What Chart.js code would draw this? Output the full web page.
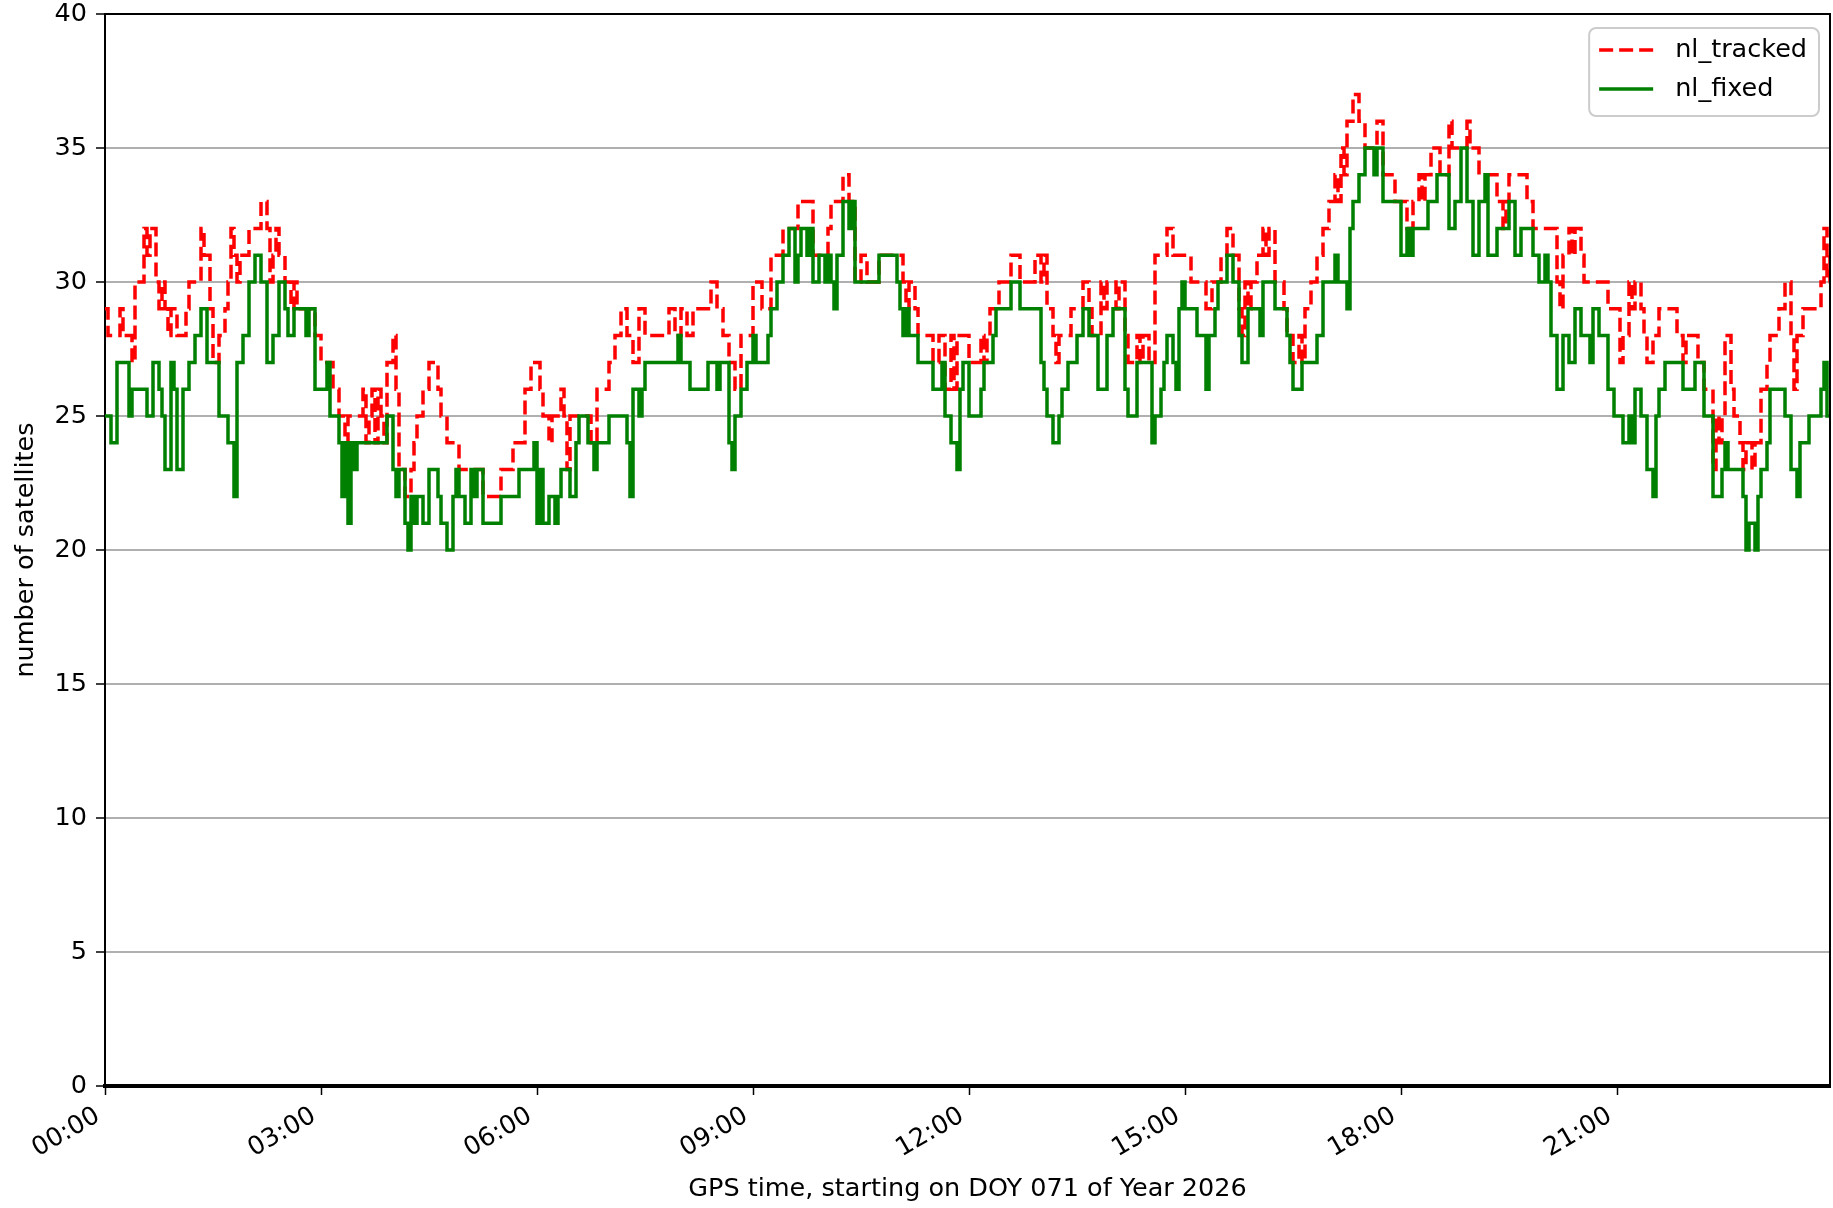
<!DOCTYPE html>
<html>
<head>
<meta charset="utf-8">
<title>nl_tracked / nl_fixed</title>
<script src="https://cdn.jsdelivr.net/npm/chart.js@4.4.1/dist/chart.umd.min.js"></script>
<style>
  html, body { margin: 0; padding: 0; background: #fff; }
  #wrap { width: 1833px; height: 1208px; }
</style>
</head>
<body>
<div id="wrap"><canvas id="satChart" width="1833" height="1208"></canvas></div>
<script>
// 2.5-minute epochs, one row per hour
const trackedValues = [
  29,28, 28,28, 28,29, 28,28, 28,27, 30,30, 30,32, 31,32, 32,30, 29,30, 29,28, 29,29,
  28,28, 28,29, 30,30, 30,30, 32,31, 31,29, 27,27, 28,28, 29,30, 32,31, 30,31, 31,31,
  32,32, 32,32, 33,33, 32,30, 31,32, 31,31, 30,30, 29,30, 29,29, 29,29, 29,29, 28,28,
  27,27, 27,27, 26,26, 25,25, 24,25, 25,25, 25,25, 26,24, 25,26, 24,26, 25,24, 27,27,
  28,26, 23,23, 22,22, 23,24, 25,25, 26,26, 27,27, 27,26, 25,25, 24,24, 24,24, 23,23,
  23,23, 23,23, 23,23, 22,22, 22,22, 22,22, 23,23, 23,23, 24,24, 24,24, 26,26, 27,27,
  27,26, 25,25, 24,25, 25,25, 26,25, 23,25, 25,25, 25,25, 25,25, 24,24, 26,26, 26,26,
  27,27, 28,28, 29,29, 28,28, 27,27, 29,29, 28,28, 28,28, 28,28, 28,28, 29,29, 28,28,
  29,29, 28,28, 29,29, 29,29, 29,29, 30,30, 29,29, 28,28, 27,27, 26,26, 28,28, 28,28,
  30,30, 30,29, 29,29, 31,31, 31,31, 32,32, 32,32, 32,33, 33,33, 33,33, 31,31, 31,31,
  31,32, 33,33, 33,33, 34,34, 33,33, 30,30, 31,31, 30,30, 30,30, 31,31, 31,31, 31,31,
  31,31, 30,29, 30,30, 29,28, 28,28, 28,28, 27,27, 28,28, 26,26, 28,26, 28,28, 28,28,
  27,27, 27,27, 28,27, 28,29, 29,29, 30,30, 30,30, 31,31, 31,30, 30,30, 30,30, 31,31,
  30,31, 29,29, 28,27, 28,28, 28,28, 29,29, 29,29, 30,30, 29,28, 28,28, 30,29, 30,30,
  30,29, 30,30, 28,27, 27,27, 28,27, 28,28, 27,27, 31,31, 31,31, 32,32, 31,31, 31,31,
  31,31, 30,30, 30,30, 30,29, 29,30, 30,30, 31,31, 32,32, 31,31, 29,28, 30,29, 30,30,
  31,31, 32,31, 32,32, 30,30, 30,29, 28,28, 27,27, 28,27, 29,29, 30,30, 31,31, 32,32,
  33,33, 34,33, 35,34, 36,36, 37,37, 36,36, 35,35, 35,35, 36,36, 34,34, 34,34, 33,33,
  33,33, 32,32, 33,33, 34,33, 34,34, 35,35, 35,34, 34,34, 36,35, 35,35, 35,35, 36,35,
  35,35, 34,34, 34,34, 34,34, 33,33, 32,33, 34,34, 34,34, 34,34, 33,33, 32,32, 32,32,
  32,32, 32,32, 30,29, 31,31, 32,31, 32,32, 31,30, 30,30, 30,30, 30,30, 30,29, 29,29,
  29,27, 28,28, 30,29, 30,30, 29,28, 27,27, 28,28, 29,29, 29,29, 29,29, 28,28, 27,28,
  28,28, 28,27, 27,26, 26,26, 23,25, 24,25, 28,28, 26,25, 25,24, 23,24, 24,23, 24,24,
  26,26, 27,28, 28,28, 29,29, 30,30, 28,26, 28,28, 29,29, 29,29, 29,29, 30,32, 30,31
];

const fixedValues = [
  25,25, 24,24, 27,27, 27,27, 25,26, 26,26, 26,26, 25,25, 27,27, 26,25, 23,23, 27,26,
  23,23, 26,26, 27,27, 28,28, 29,29, 27,27, 27,27, 25,25, 25,24, 24,22, 27,27, 28,28,
  30,30, 31,31, 30,30, 27,27, 28,28, 30,30, 29,28, 28,29, 29,29, 29,28, 29,29, 26,26,
  26,26, 27,25, 25,25, 24,22, 24,21, 24,23, 24,24, 24,24, 24,24, 24,24, 24,24, 25,25,
  23,22, 23,23, 21,20, 22,21, 22,22, 21,21, 23,23, 23,22, 21,21, 20,20, 22,23, 22,22,
  21,21, 23,22, 23,23, 21,21, 21,21, 21,21, 22,22, 22,22, 22,22, 23,23, 23,23, 23,24,
  21,23, 21,21, 22,22, 21,22, 23,23, 23,22, 22,24, 25,25, 25,24, 24,23, 24,24, 24,24,
  25,25, 25,25, 25,25, 24,22, 26,26, 25,26, 27,27, 27,27, 27,27, 27,27, 27,27, 27,28,
  27,27, 27,26, 26,26, 26,26, 26,27, 27,27, 26,27, 27,27, 24,23, 25,25, 26,26, 27,27,
  28,27, 27,27, 27,28, 29,29, 30,30, 31,31, 32,32, 30,31, 32,32, 31,32, 30,30, 31,31,
  30,31, 30,29, 31,31, 33,33, 32,33, 30,30, 30,30, 30,30, 30,30, 31,31, 31,31, 31,31,
  30,29, 28,29, 28,28, 28,27, 27,27, 27,27, 26,26, 26,27, 25,25, 24,24, 23,26, 27,27,
  25,25, 25,25, 26,27, 27,27, 28,29, 29,29, 29,29, 30,30, 30,29, 29,29, 29,29, 29,29,
  27,26, 25,25, 24,24, 25,26, 26,27, 27,27, 28,28, 29,29, 28,28, 28,26, 26,26, 28,28,
  29,29, 29,29, 26,25, 25,25, 27,27, 27,27, 27,24, 25,25, 26,27, 28,28, 27,26, 29,30,
  29,29, 29,29, 28,28, 28,26, 28,28, 29,30, 30,30, 31,31, 30,30, 28,27, 27,29, 29,29,
  29,28, 30,30, 30,30, 29,29, 29,29, 28,27, 26,26, 26,27, 27,27, 27,27, 28,28, 30,30,
  30,30, 31,30, 30,30, 29,32, 33,33, 34,34, 35,35, 35,34, 35,35, 33,33, 33,33, 33,33,
  31,31, 32,31, 32,32, 32,32, 32,33, 33,33, 34,34, 34,34, 32,32, 33,33, 35,35, 33,33,
  31,31, 33,33, 34,31, 31,31, 32,32, 32,32, 33,33, 31,31, 32,32, 32,32, 31,31, 30,30,
  31,30, 28,28, 26,26, 28,28, 27,27, 29,29, 28,28, 28,27, 29,29, 28,28, 28,26, 26,25,
  25,25, 24,24, 25,24, 26,26, 25,25, 23,23, 22,25, 26,26, 27,27, 27,27, 27,27, 26,26,
  26,26, 27,27, 27,25, 25,25, 22,22, 22,23, 24,23, 23,23, 23,23, 22,20, 21,21, 20,22,
  23,23, 24,26, 26,26, 26,26, 25,25, 23,23, 22,24, 24,24, 25,25, 25,25, 26,27, 25,25
];

const epochMinutes = 2.5;
const dayEndMinute = 1437.5;
const tickMinutes = [0, 180, 360, 540, 720, 900, 1080, 1260];
const tickLabels = ["00:00", "03:00", "06:00", "09:00", "12:00", "15:00", "18:00", "21:00"];
const yTicks = [0, 5, 10, 15, 20, 25, 30, 35, 40];

const FONT = { family: "'DejaVu Sans', sans-serif", size: 25.5 };

function toPoints(values) {
  const pts = values.map((v, i) => ({ x: i * epochMinutes, y: v }));
  pts.push({ x: values.length * epochMinutes, y: values[values.length - 1] });
  return pts;
}

const frameAndLegend = {
  id: "frameAndLegend",
  afterDraw(chart) {
    const { ctx, chartArea: area } = chart;
    ctx.save();
    // top and right spines
    ctx.strokeStyle = "#000";
    ctx.lineWidth = 2;
    ctx.beginPath();
    ctx.moveTo(area.left, area.top);
    ctx.lineTo(area.right, area.top);
    ctx.lineTo(area.right, area.bottom);
    ctx.stroke();

    // legend box, upper right
    const sets = chart.data.datasets;
    ctx.font = FONT.size + "px " + FONT.family;
    const textW = Math.max(...sets.map((d) => ctx.measureText(d.label).width));
    const padL = 10, handle = 54, gap = 22, padR = 12, rowH = 39;
    const boxW = padL + handle + gap + textW + padR;
    const boxH = 88;
    const bx = area.right - 11 - boxW;
    const by = area.top + 14;
    ctx.beginPath();
    ctx.roundRect(bx, by, boxW, boxH, 7);
    ctx.fillStyle = "rgba(255,255,255,0.85)";
    ctx.fill();
    ctx.strokeStyle = "#cccccc";
    ctx.lineWidth = 2;
    ctx.stroke();

    sets.forEach((d, i) => {
      const y = by + 22 + i * rowH;
      ctx.beginPath();
      ctx.setLineDash(d.borderDash || []);
      ctx.strokeStyle = d.borderColor;
      ctx.lineWidth = d.borderWidth;
      ctx.moveTo(bx + padL, y);
      ctx.lineTo(bx + padL + handle, y);
      ctx.stroke();
      ctx.setLineDash([]);
      ctx.fillStyle = "#000";
      ctx.textAlign = "left";
      ctx.textBaseline = "middle";
      ctx.fillText(d.label, bx + padL + handle + gap, y);
    });
    ctx.restore();
  },
};

new Chart(document.getElementById("satChart"), {
  type: "line",
  data: {
    datasets: [
      {
        label: "nl_tracked",
        data: toPoints(trackedValues),
        borderColor: "#ff0000",
        borderWidth: 3.5,
        borderDash: [14, 6],
        stepped: true,
        pointRadius: 0,
        order: 2,
      },
      {
        label: "nl_fixed",
        data: toPoints(fixedValues),
        borderColor: "#008000",
        borderWidth: 3.5,
        stepped: true,
        pointRadius: 0,
        order: 1,
      },
    ],
  },
  options: {
    responsive: false,
    animation: false,
    events: [],
    layout: { padding: { top: 14, right: 3, left: 0, bottom: 0 } },
    plugins: { legend: { display: false }, tooltip: { enabled: false } },
    scales: {
      x: {
        type: "linear",
        min: 0,
        max: dayEndMinute,
        afterBuildTicks: (axis) => {
          axis.ticks = tickMinutes.map((v) => ({ value: v }));
        },
        afterFit: (scale) => {
          scale.height = 122;
        },
        grid: { drawOnChartArea: false, tickColor: "#000", tickLength: 9, tickWidth: 1.5 },
        border: { color: "#000", width: 4 },
        ticks: {
          autoSkip: false,
          minRotation: 30,
          maxRotation: 30,
          padding: 6,
          labelOffset: -7,
          color: "#000",
          font: FONT,
          callback: (value, index) => tickLabels[index],
        },
        title: {
          display: true,
          text: "GPS time, starting on DOY 071 of Year 2026",
          color: "#000",
          font: FONT,
          padding: { top: 0, bottom: 3 },
        },
      },
      y: {
        min: 0,
        max: 40,
        afterBuildTicks: (axis) => {
          axis.ticks = yTicks.map((v) => ({ value: v }));
        },
        afterFit: (scale) => {
          scale.width = 105;
          scale.paddingTop = 0;
          scale.paddingBottom = 0;
        },
        grid: {
          color: (c) => (c.tick && c.tick.value === 40 ? "rgba(0,0,0,0)" : "#b0b0b0"),
          lineWidth: 2,
          tickColor: "#000",
          tickLength: 9,
          tickWidth: 1.5,
        },
        border: { color: "#000", width: 2 },
        ticks: { padding: 9, color: "#000", font: FONT },
        title: {
          display: true,
          text: "number of satellites",
          color: "#000",
          font: FONT,
          padding: { top: 11, bottom: 0 },
        },
      },
    },
  },
  plugins: [frameAndLegend],
});
</script>
</body>
</html>
